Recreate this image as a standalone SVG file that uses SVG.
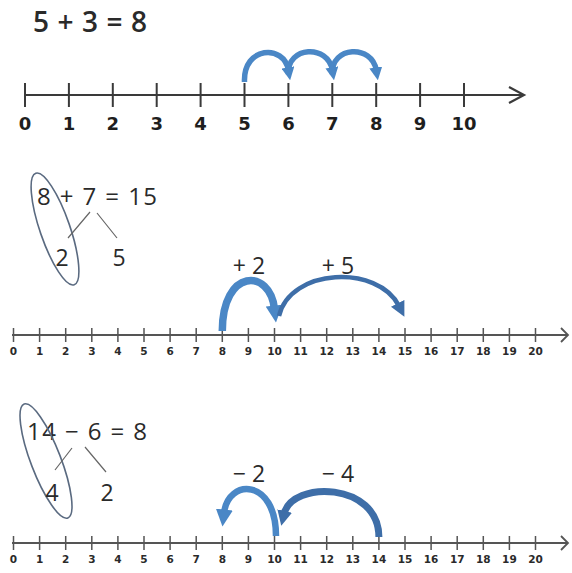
<svg xmlns="http://www.w3.org/2000/svg" width="572" height="573" viewBox="0 0 572 573">
<style>
.axis{stroke:#3a3a3a;stroke-width:2.2;fill:none}
.tick{stroke:#3a3a3a;stroke-width:2;fill:none}
.axis2{stroke:#555;stroke-width:1.8;fill:none}
.tick2{stroke:#555;stroke-width:1.5;fill:none}
.lbl{font-family:"DejaVu Sans",sans-serif;font-weight:bold;font-size:18px;fill:#1e1e1e;text-anchor:middle}
.lbl2{font-family:"DejaVu Sans",sans-serif;font-weight:bold;font-size:10.5px;fill:#2a2a2a;text-anchor:middle}
.eq{font-family:"Open Sans","Liberation Sans",sans-serif;fill:#2a2a2a}
.part{stroke:#666;stroke-width:1.2;fill:none}
.ring{stroke:#5a6a80;stroke-width:1.6;fill:none}
.arc{stroke:#4a87c6;fill:none;stroke-linecap:butt}
.arcd{stroke:#3e6ea8;fill:none;stroke-linecap:butt}
</style>
<defs>
<marker id="ah" viewBox="0 0 10 10" refX="2" refY="5" markerUnits="userSpaceOnUse" markerWidth="13" markerHeight="13" orient="auto"><path d="M0,0 L10,5 L0,10 z" fill="#4a87c6"/></marker>
<marker id="ahd" viewBox="0 0 10 10" refX="2" refY="5" markerUnits="userSpaceOnUse" markerWidth="15" markerHeight="15" orient="auto"><path d="M0,0 L10,5 L0,10 z" fill="#3e6ea8"/></marker>
<marker id="ahb" viewBox="0 0 10 10" refX="2" refY="5" markerUnits="userSpaceOnUse" markerWidth="17" markerHeight="17" orient="auto"><path d="M0,0 L10,5 L0,10 z" fill="#4a87c6"/></marker>
</defs>

<!-- Section 1 -->
<g id="eq1"><text class="eq" x="33" y="32" font-size="28" font-weight="600" textLength="114" lengthAdjust="spacing">5 + 3 = 8</text></g>
<g id="line1">
<path class="axis" d="M25,95 H523"/>
<polyline class="axis" points="509,87 524,95 509,103"/>
<path class="tick" d="M25,83V107 M68.9,83V107 M112.8,83V107 M156.7,83V107 M200.6,83V107 M244.5,83V107 M288.4,83V107 M332.3,83V107 M376.2,83V107 M420.1,83V107 M464,83V107"/>
<text class="lbl" x="25" y="130">0</text>
<text class="lbl" x="68.9" y="130">1</text>
<text class="lbl" x="112.8" y="130">2</text>
<text class="lbl" x="156.7" y="130">3</text>
<text class="lbl" x="200.6" y="130">4</text>
<text class="lbl" x="244.5" y="130">5</text>
<text class="lbl" x="288.4" y="130">6</text>
<text class="lbl" x="332.3" y="130">7</text>
<text class="lbl" x="376.2" y="130">8</text>
<text class="lbl" x="420.1" y="130">9</text>
<text class="lbl" x="464" y="130">10</text>
</g>

<!-- Section 2 -->
<g id="eq2">
<text class="eq" x="37" y="205" font-size="24" font-weight="500" textLength="120" lengthAdjust="spacing">8 + 7 = 15</text>
<ellipse class="ring" cx="55" cy="229" rx="59" ry="15" transform="rotate(71 55 229)"/>
<path class="part" d="M90,212 L68,238 M97,213 L117,238"/>
<text class="eq" x="62" y="266" font-size="23" text-anchor="middle">2</text>
<text class="eq" x="119" y="266" font-size="23" text-anchor="middle">5</text>
</g>
<g id="line2">
<path class="axis2" d="M12,335 H567"/>
<polyline class="axis2" points="561,328 568,335 561,342"/>
<path class="tick2" d="M13.5,328V342 M39.6,328V342 M65.7,328V342 M91.8,328V342 M117.9,328V342 M144,328V342 M170.1,328V342 M196.2,328V342 M222.3,328V342 M248.4,328V342 M274.5,328V342 M300.6,328V342 M326.7,328V342 M352.8,328V342 M378.9,328V342 M405,328V342 M431.1,328V342 M457.2,328V342 M483.3,328V342 M509.4,328V342 M535.5,328V342"/>
<text class="lbl2" x="13.5" y="355">0</text>
<text class="lbl2" x="39.6" y="355">1</text>
<text class="lbl2" x="65.7" y="355">2</text>
<text class="lbl2" x="91.8" y="355">3</text>
<text class="lbl2" x="117.9" y="355">4</text>
<text class="lbl2" x="144" y="355">5</text>
<text class="lbl2" x="170.1" y="355">6</text>
<text class="lbl2" x="196.2" y="355">7</text>
<text class="lbl2" x="222.3" y="355">8</text>
<text class="lbl2" x="248.4" y="355">9</text>
<text class="lbl2" x="274.5" y="355">10</text>
<text class="lbl2" x="300.6" y="355">11</text>
<text class="lbl2" x="326.7" y="355">12</text>
<text class="lbl2" x="352.8" y="355">13</text>
<text class="lbl2" x="378.9" y="355">14</text>
<text class="lbl2" x="405" y="355">15</text>
<text class="lbl2" x="431.1" y="355">16</text>
<text class="lbl2" x="457.2" y="355">17</text>
<text class="lbl2" x="483.3" y="355">18</text>
<text class="lbl2" x="509.4" y="355">19</text>
<text class="lbl2" x="535.5" y="355">20</text>
</g>
<g id="jumplabels2">
<text class="eq" x="249" y="274" font-size="23" text-anchor="middle">+ 2</text>
<text class="eq" x="338" y="274" font-size="23" text-anchor="middle">+ 5</text>
</g>

<!-- Section 3 -->
<g id="eq3">
<text class="eq" x="27" y="440" font-size="24" font-weight="500" textLength="120" lengthAdjust="spacing">14 − 6 = 8</text>
<ellipse class="ring" cx="46" cy="461" rx="61" ry="15" transform="rotate(69 46 461)"/>
<path class="part" d="M72,448 L55,470 M85,447 L106,472"/>
<text class="eq" x="52" y="501" font-size="23" text-anchor="middle">4</text>
<text class="eq" x="107" y="501" font-size="23" text-anchor="middle">2</text>
</g>
<g id="line3">
<path class="axis2" d="M12,543 H567"/>
<polyline class="axis2" points="561,536 568,543 561,550"/>
<path class="tick2" d="M13.5,536V550 M39.6,536V550 M65.7,536V550 M91.8,536V550 M117.9,536V550 M144,536V550 M170.1,536V550 M196.2,536V550 M222.3,536V550 M248.4,536V550 M274.5,536V550 M300.6,536V550 M326.7,536V550 M352.8,536V550 M378.9,536V550 M405,536V550 M431.1,536V550 M457.2,536V550 M483.3,536V550 M509.4,536V550 M535.5,536V550"/>
<text class="lbl2" x="13.5" y="563">0</text>
<text class="lbl2" x="39.6" y="563">1</text>
<text class="lbl2" x="65.7" y="563">2</text>
<text class="lbl2" x="91.8" y="563">3</text>
<text class="lbl2" x="117.9" y="563">4</text>
<text class="lbl2" x="144" y="563">5</text>
<text class="lbl2" x="170.1" y="563">6</text>
<text class="lbl2" x="196.2" y="563">7</text>
<text class="lbl2" x="222.3" y="563">8</text>
<text class="lbl2" x="248.4" y="563">9</text>
<text class="lbl2" x="274.5" y="563">10</text>
<text class="lbl2" x="300.6" y="563">11</text>
<text class="lbl2" x="326.7" y="563">12</text>
<text class="lbl2" x="352.8" y="563">13</text>
<text class="lbl2" x="378.9" y="563">14</text>
<text class="lbl2" x="405" y="563">15</text>
<text class="lbl2" x="431.1" y="563">16</text>
<text class="lbl2" x="457.2" y="563">17</text>
<text class="lbl2" x="483.3" y="563">18</text>
<text class="lbl2" x="509.4" y="563">19</text>
<text class="lbl2" x="535.5" y="563">20</text>
</g>
<g id="jumplabels3">
<text class="eq" x="249" y="482" font-size="23" text-anchor="middle">− 2</text>
<text class="eq" x="338" y="482" font-size="23" text-anchor="middle">− 4</text>
</g>

<!-- Connectors (jump arcs) -->
<g id="connectors">
<path class="arc" stroke-width="5.5" marker-end="url(#ah)" d="M244.5,82 C243,46 284,44 288.4,70"/>
<path class="arc" stroke-width="5.5" marker-end="url(#ah)" d="M288.4,74 C287,46 328,44 332.3,70"/>
<path class="arc" stroke-width="5.5" marker-end="url(#ah)" d="M332.3,74 C331,46 372,44 376.2,70"/>

<path class="arc" stroke-width="7.5" marker-end="url(#ahb)" d="M222.3,331 C222.3,268 270,268 274.5,309"/>
<path class="arcd" stroke-width="4.5" marker-end="url(#ahd)" d="M279,316 C290,268 378,264 399,306"/>

<path class="arc" stroke-width="6.5" marker-end="url(#ahb)" d="M276,536 C276,478 228,478 224,513"/>
<path class="arcd" stroke-width="7" marker-end="url(#ahd)" d="M378.9,537 C378.9,482 292,480 284,514"/>
</g>
</svg>
